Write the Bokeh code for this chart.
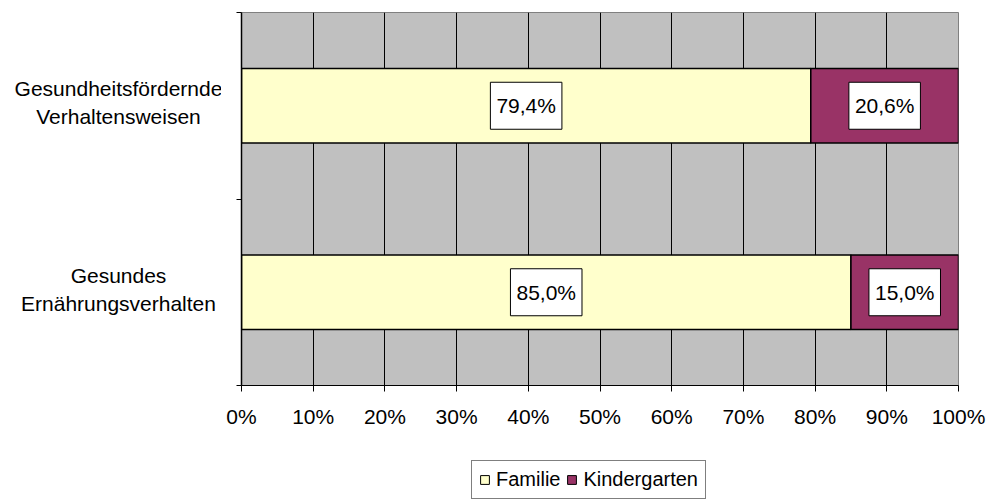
from bokeh.plotting import figure
from bokeh.layouts import row, column
from bokeh.models import (ColumnDataSource, FixedTicker, Legend, LegendItem, Range1d)
from bokeh.core.properties import value
from bokeh.embed import file_html
from bokeh.resources import INLINE

# ---- data ----
categories = ["Gesundes\nErnährungsverhalten", "Gesundheitsfördernde\nVerhaltensweisen"]
familie = [85.0, 79.4]
kindergarten = [15.0, 20.6]
series_names = ["Familie", "Kindergarten"]
x_ticks = [0, 10, 20, 30, 40, 50, 60, 70, 80, 90, 100]
x_tick_labels = ["0%", "10%", "20%", "30%", "40%", "50%", "60%", "70%", "80%", "90%", "100%"]

YELLOW = "#FFFFCC"
PURPLE = "#993366"
GRAY = "#C0C0C0"
FONT = "Liberation Sans"
FS = "21px"

ypos = [i + 0.5 for i in range(len(categories))]
src = ColumnDataSource(dict(
    y=ypos,
    fam_end=familie,
    kin_end=[f + k for f, k in zip(familie, kindergarten)],
    fam_mid=[f / 2 for f in familie],
    kin_mid=[f + k / 2 for f, k in zip(familie, kindergarten)],
    fam_txt=[("%.1f%%" % v).replace(".", ",") for v in familie],
    kin_txt=[("%.1f%%" % v).replace(".", ",") for v in kindergarten],
    cat=categories,
))

TOTAL_W = 986
LEFT_W = 221           # width of the category-label panel
TOP, FRAME_H, AXIS_H = 12, 373, 45
MAIN_H = TOP + FRAME_H + AXIS_H
LEG_H = 69
yr = Range1d(0, len(categories))

# ---- category label panel ----
lf = figure(width=LEFT_W, height=MAIN_H, output_backend="svg", toolbar_location=None,
            x_range=Range1d(0, LEFT_W), y_range=yr,
            min_border_left=0, min_border_right=0, min_border_top=TOP,
            min_border_bottom=AXIS_H)
lf.axis.visible = False
lf.grid.visible = False
lf.outline_line_color = None
lf.background_fill_color = "white"
lf.text(x=118, y="y", text="cat", source=src, text_align="center",
        text_baseline="middle", text_font=value(FONT), text_font_size=FS,
        text_color="black", text_line_height=1.2, y_offset=-3)

# ---- main chart ----
ML = 20
p = figure(width=TOTAL_W - LEFT_W, height=MAIN_H, output_backend="svg",
           toolbar_location=None,
           x_range=Range1d(0, 100), y_range=yr,
           min_border_left=ML, min_border_right=TOTAL_W - LEFT_W - ML - 717,
           min_border_top=TOP, min_border_bottom=AXIS_H)
p.background_fill_color = GRAY
p.border_fill_color = "white"
p.outline_line_color = "#808080"
p.outline_line_width = 1

r1 = p.hbar(y="y", left=0, right="fam_end", height=0.4, source=src,
            fill_color=YELLOW, line_color="black", line_width=1.5)
r2 = p.hbar(y="y", left="fam_end", right="kin_end", height=0.4, source=src,
            fill_color=PURPLE, line_color="black", line_width=1.5)

p.xgrid.ticker = FixedTicker(ticks=x_ticks)
p.xgrid.grid_line_color = "black"
p.xgrid.grid_line_width = 1
p.ygrid.grid_line_color = None
p.xgrid.level = "underlay"

xa = p.xaxis[0]
xa.ticker = FixedTicker(ticks=x_ticks)
xa.major_label_overrides = {t: l for t, l in zip(x_ticks, x_tick_labels)}
xa.major_label_text_font = FONT
xa.major_label_text_font_size = FS
xa.major_label_text_color = "black"
xa.major_tick_in = 0
xa.major_tick_out = 6
xa.minor_tick_line_color = None
xa.axis_line_color = "black"
xa.major_tick_line_color = "black"
xa.major_label_standoff = 13

ya = p.yaxis[0]
ya.ticker = FixedTicker(ticks=[], minor_ticks=list(range(len(categories) + 1)))
ya.major_tick_line_color = None
ya.major_tick_in = 0
ya.major_tick_out = 0
ya.minor_tick_in = 0
ya.minor_tick_out = 5
ya.minor_tick_line_color = "black"
ya.axis_line_color = "black"
ya.axis_line_width = 1.5
ya.major_label_standoff = 0

for xcol, tcol in (("fam_mid", "fam_txt"), ("kin_mid", "kin_txt")):
    p.text(x=xcol, y="y", text=tcol, source=src,
           text_align="center", text_baseline="middle",
           text_font=value(FONT), text_font_size=FS, text_color="black",
           background_fill_color="white", border_line_color="black",
           border_line_width=1,
           padding=dict(left=6, right=6, top=12, bottom=12))

# ---- legend panel ----
lg = figure(width=TOTAL_W, height=LEG_H, output_backend="svg", toolbar_location=None,
            x_range=Range1d(0, 1), y_range=Range1d(100, 101),
            min_border_left=0, min_border_right=0, min_border_top=0,
            min_border_bottom=0)
lg.axis.visible = False
lg.grid.visible = False
lg.outline_line_color = None
lr1 = lg.hbar(y="y", left=0, right="fam_end", height=0.4, source=src,
              fill_color=YELLOW, line_color="black", line_width=1)
lr2 = lg.hbar(y="y", left="fam_end", right="kin_end", height=0.4, source=src,
              fill_color=PURPLE, line_color="black", line_width=1)
legend = Legend(items=[LegendItem(label=series_names[0], renderers=[lr1]),
                       LegendItem(label=series_names[1], renderers=[lr2])],
                orientation="horizontal", location=(471, 0))
legend.label_text_font = FONT
legend.label_text_font_size = "20px"
legend.label_text_color = "black"
legend.glyph_width = 11
legend.glyph_height = 11
legend.label_height = 20
legend.label_standoff = 6
legend.spacing = 6
legend.padding = 7
legend.margin = 0
legend.border_line_color = "black"
legend.border_line_width = 1
legend.background_fill_color = "white"
legend.background_fill_alpha = 1
lg.add_layout(legend)

layout = column(row(lf, p, spacing=0), lg, spacing=0)
open("out.html", "w").write(file_html(layout, INLINE))
